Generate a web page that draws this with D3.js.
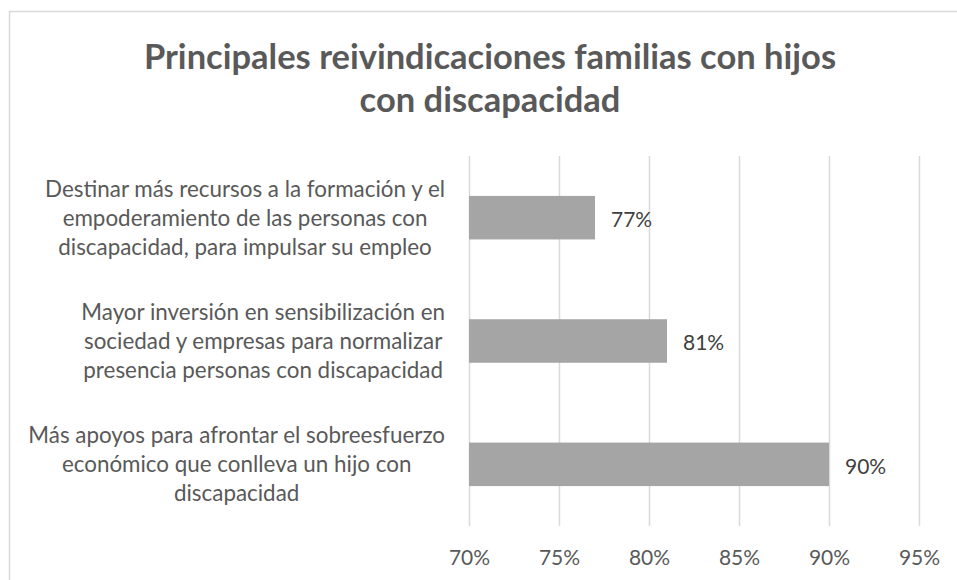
<!DOCTYPE html>
<html>
<head>
<meta charset="utf-8">
<script src="https://d3js.org/d3.v7.min.js"></script>
<style>
  body { margin: 0; background: #fff; }
  text { font-family: Lato, "Open Sans", sans-serif; }
</style>
</head>
<body>
<div id="chart"></div>
<script>
// data
var titleLines = ["Principales reivindicaciones familias con hijos", "con discapacidad"];
var categories = [
  ["Destinar más recursos a la formación y el", "empoderamiento de las personas con", "discapacidad, para impulsar su empleo"],
  ["Mayor inversión en sensibilización en", "sociedad y empresas para normalizar", "presencia personas con discapacidad"],
  ["Más apoyos para afrontar el sobreesfuerzo", "económico que conlleva un hijo con", "discapacidad"]
];
var values = [77, 81, 90];
var xTicks = [70, 75, 80, 85, 90, 95];

var width = 957, height = 580;
var margin = {top: 156, right: 38, bottom: 54, left: 469};

var svg = d3.select("#chart").append("svg")
    .attr("width", width)
    .attr("height", height);

// chart border (runs off the right and bottom edges)
svg.append("rect")
    .attr("x", 9.5).attr("y", 11.5)
    .attr("width", 1000).attr("height", 700)
    .attr("fill", "none")
    .attr("stroke", "#d9d9d9")
    .attr("stroke-width", 1.5);

// title
svg.append("text")
    .attr("x", 490)
    .attr("y", 69)
    .attr("text-anchor", "middle")
    .attr("fill", "#595959")
    .style("font-size", "34.5px")
    .style("font-weight", "bold")
  .selectAll("tspan")
  .data(titleLines)
  .join("tspan")
    .attr("x", 490)
    .attr("dy", function(d, i) { return i === 0 ? 0 : 43; })
    .text(function(d) { return d; });

var x = d3.scaleLinear()
    .domain([70, 95])
    .range([margin.left, width - margin.right]);

var y = d3.scaleBand()
    .domain(d3.range(categories.length))
    .range([margin.top, height - margin.bottom])
    .paddingInner(0.647)
    .paddingOuter(0.3235);

// gridlines + tick labels
var xAxis = svg.append("g")
    .attr("transform", "translate(0," + (height - margin.bottom) + ")")
    .call(d3.axisBottom(x)
        .tickValues(xTicks)
        .tickSize(-(height - margin.bottom - margin.top))
        .tickPadding(24)
        .tickFormat(function(d) { return d + "%"; }));

xAxis.select(".domain").remove();
xAxis.selectAll(".tick line")
    .attr("stroke", "#d9d9d9")
    .attr("stroke-width", 1.5);
xAxis.selectAll(".tick text")
    .attr("fill", "#595959")
    .style("font-family", "Lato, sans-serif")
    .style("font-size", "21px");

// bars
svg.append("g")
  .selectAll("rect")
  .data(values)
  .join("rect")
    .attr("x", x(70))
    .attr("y", function(d, i) { return y(i); })
    .attr("width", function(d) { return x(d) - x(70); })
    .attr("height", y.bandwidth())
    .attr("fill", "#a5a5a5");

// data labels
svg.append("g")
  .selectAll("text")
  .data(values)
  .join("text")
    .attr("x", function(d) { return x(d) + 16; })
    .attr("y", function(d, i) { return y(i) + y.bandwidth() / 2 + 2; })
    .attr("dy", "0.35em")
    .attr("fill", "#404040")
    .style("font-size", "21px")
    .text(function(d) { return d + "%"; });

// category labels: lines centred inside a block that is right aligned to the axis
var lineH = 29;
var labelRight = x(70) - 24;
categories.forEach(function(lines, i) {
  var cy = y(i) + y.bandwidth() / 2;
  var t = svg.append("text")
      .attr("text-anchor", "middle")
      .attr("fill", "#595959")
      .style("font-size", "22.4px");
  var spans = t.selectAll("tspan")
    .data(lines)
    .join("tspan")
      .attr("y", function(d, j) { return cy + (j - (lines.length - 1) / 2) * lineH; })
      .attr("dy", "0.35em")
      .text(function(d) { return d; });
  var maxW = 0;
  spans.each(function() { maxW = Math.max(maxW, this.getComputedTextLength()); });
  spans.attr("x", labelRight - maxW / 2);
});
</script>
</body>
</html>
